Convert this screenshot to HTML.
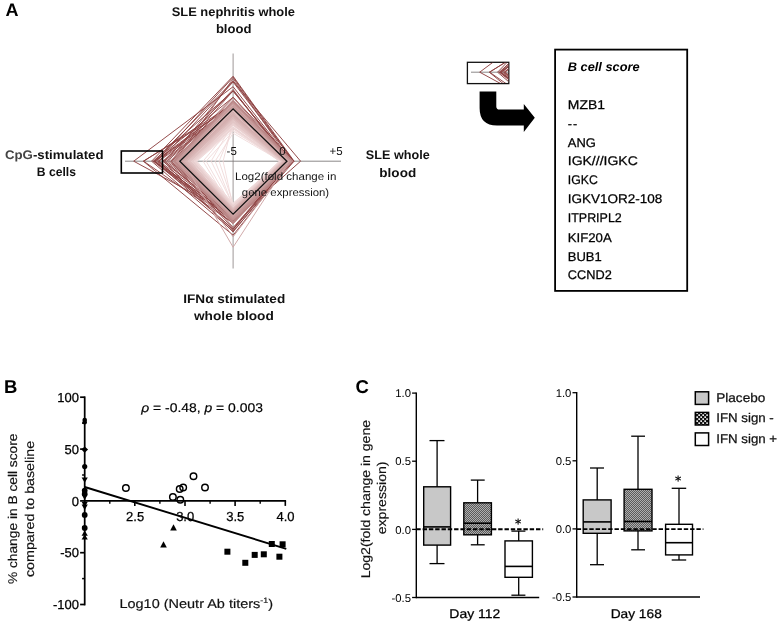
<!DOCTYPE html>
<html><head><meta charset="utf-8"><title>Figure</title>
<style>html,body{margin:0;padding:0;background:#fff}svg{display:block}text{white-space:pre;text-rendering:geometricPrecision}</style>
</head><body>
<svg width="782" height="626" viewBox="0 0 782 626">
<rect width="782" height="626" fill="#fff"/>
<g fill="none" stroke-linejoin="miter">
<line x1="233.1" y1="53.5" x2="233.1" y2="268.5" stroke="#857d7d" stroke-width="0.8"/>
<line x1="125" y1="161.2" x2="341" y2="161.2" stroke="#777272" stroke-width="0.85"/>
<polygon points="177.1,161.2 233.1,106.5 290.7,161.2 233.1,218.1" stroke="#a36262" stroke-width="0.95"/>
<polygon points="175.2,161.2 233.1,102.6 292.7,161.2 233.1,227.4" stroke="#a16060" stroke-width="0.95"/>
<polygon points="174.6,161.2 233.1,78.5 290.9,161.2 233.1,219.5" stroke="#a05e5e" stroke-width="0.95"/>
<polygon points="171.0,161.2 233.1,90.8 290.9,161.2 233.1,219.0" stroke="#9f5c5c" stroke-width="0.95"/>
<polygon points="171.7,161.2 233.1,103.4 293.7,161.2 233.1,220.3" stroke="#9d5a5a" stroke-width="0.95"/>
<polygon points="168.5,161.2 233.1,80.6 293.7,161.2 233.1,215.2" stroke="#9c5858" stroke-width="0.95"/>
<polygon points="170.5,161.2 233.1,97.3 289.2,161.2 233.1,228.6" stroke="#9b5656" stroke-width="0.95"/>
<polygon points="166.5,161.2 233.1,106.7 292.3,161.2 233.1,215.2" stroke="#9a5454" stroke-width="0.95"/>
<polygon points="164.6,161.2 233.1,106.0 293.8,161.2 233.1,217.6" stroke="#985252" stroke-width="0.95"/>
<polygon points="162.7,161.2 233.1,106.6 290.4,161.2 233.1,216.6" stroke="#975050" stroke-width="0.95"/>
<polygon points="164.4,161.2 233.1,89.5 287.7,161.2 233.1,217.3" stroke="#964e4e" stroke-width="0.95"/>
<polygon points="163.5,161.2 233.1,90.7 290.9,161.2 233.1,232.0" stroke="#944c4c" stroke-width="0.95"/>
<polygon points="158.8,161.2 233.1,107.2 289.3,161.2 233.1,229.8" stroke="#934a4a" stroke-width="0.95"/>
<polygon points="159.2,161.2 233.1,82.0 293.5,161.2 233.1,216.0" stroke="#924848" stroke-width="0.95"/>
<polygon points="158.0,161.2 233.1,102.5 292.2,161.2 233.1,221.8" stroke="#914646" stroke-width="0.95"/>
<polygon points="154.1,161.2 233.1,97.3 293.7,161.2 233.1,219.8" stroke="#8f4444" stroke-width="0.95"/>
<polygon points="154.8,161.2 233.1,107.5 293.2,161.2 233.1,216.6" stroke="#8e4242" stroke-width="0.95"/>
<polygon points="133.7,161.2 233.1,86.7 291.1,161.2 233.1,215.2" stroke="#8e4242" stroke-width="0.95"/>
<polygon points="143.3,161.2 233.1,106.7 292.1,161.2 233.1,235.2" stroke="#8e4242" stroke-width="0.95"/>
<polygon points="143.6,161.2 233.1,104.2 293.1,161.2 233.1,223.2" stroke="#8e4242" stroke-width="0.95"/>
<polygon points="151.6,161.2 233.1,76.2 294.1,161.2 233.1,231.2" stroke="#8e4242" stroke-width="0.95"/>
<polygon points="153.1,161.2 233.1,91.2 290.1,161.2 233.1,223.2" stroke="#8e4242" stroke-width="0.95"/>
<polygon points="155.1,161.2 233.1,103.2 292.1,161.2 233.1,229.2" stroke="#8e4242" stroke-width="0.95"/>
<polygon points="154.1,161.2 233.1,81.2 300.6,161.2 233.1,221.2" stroke="#8e4242" stroke-width="0.95"/>
<polygon points="156.6,161.2 233.1,77.2 293.1,161.2 233.1,218.2" stroke="#8e4242" stroke-width="0.95"/>
<path d="M175.1,161.2 L233.1,103.2 L290.6,161.2 L233.1,219.7 Z M179.8,161.2 L233.1,108.9 L286.9,161.2 L233.1,214.2 Z" fill="#ecd2d2" fill-opacity="0.55" fill-rule="evenodd" stroke="none"/>
<polygon points="178.7,161.2 233.1,108.4 288.0,161.2 233.1,216.7" stroke="#d6b2b2" stroke-width="1.0"/>
<polygon points="178.3,161.2 233.1,108.2 286.9,161.2 233.1,214.1" stroke="#d4afaf" stroke-width="1.0"/>
<polygon points="180.2,161.2 233.1,108.3 288.1,161.2 233.1,217.3" stroke="#d3adad" stroke-width="1.0"/>
<polygon points="177.8,161.2 233.1,106.7 288.5,161.2 233.1,217.4" stroke="#d1aaaa" stroke-width="1.0"/>
<polygon points="179.7,161.2 233.1,105.4 289.3,161.2 233.1,217.8" stroke="#cfa7a7" stroke-width="1.0"/>
<polygon points="177.3,161.2 233.1,105.6 288.2,161.2 233.1,218.4" stroke="#cea5a5" stroke-width="1.0"/>
<polygon points="178.1,161.2 233.1,103.8 290.2,161.2 233.1,217.3" stroke="#cca2a2" stroke-width="1.0"/>
<polygon points="177.5,161.2 233.1,102.7 290.0,161.2 233.1,216.9" stroke="#caa0a0" stroke-width="1.0"/>
<polygon points="177.9,161.2 233.1,105.4 290.7,161.2 233.1,219.9" stroke="#c99d9d" stroke-width="1.0"/>
<polygon points="177.5,161.2 233.1,102.1 291.2,161.2 233.1,219.8" stroke="#c79a9a" stroke-width="1.0"/>
<polygon points="176.4,161.2 233.1,102.7 289.9,161.2 233.1,217.8" stroke="#c59898" stroke-width="1.0"/>
<polygon points="174.2,161.2 233.1,101.8 291.0,161.2 233.1,221.9" stroke="#c39595" stroke-width="1.0"/>
<polygon points="175.4,161.2 233.1,100.4 292.0,161.2 233.1,219.5" stroke="#c29292" stroke-width="1.0"/>
<polygon points="175.5,161.2 233.1,102.1 291.2,161.2 233.1,221.5" stroke="#c09090" stroke-width="1.0"/>
<polygon points="175.1,161.2 233.1,101.1 291.3,161.2 233.1,223.3" stroke="#be8d8d" stroke-width="1.0"/>
<polygon points="174.4,161.2 233.1,100.4 292.6,161.2 233.1,223.8" stroke="#bd8a8a" stroke-width="1.0"/>
<polygon points="173.7,161.2 233.1,98.1 292.8,161.2 233.1,222.8" stroke="#bb8888" stroke-width="1.0"/>
<polygon points="173.0,161.2 233.1,101.1 293.0,161.2 233.1,221.9" stroke="#b98585" stroke-width="1.0"/>
<polygon points="183.1,161.2 233.1,111.2 289.1,161.2 233.1,247.2" stroke="#d1aaaa" stroke-width="1.0"/>
<polygon points="177.1,161.2 233.1,106.2 291.1,161.2 233.1,236.7" stroke="#c79a9a" stroke-width="1.0"/>
<path d="M179.8,161.2 L233.1,108.9 L286.9,161.2 L233.1,214.2 Z M195.1,161.2 L233.1,127.2 L280.6,161.2 L233.1,205.2 Z" fill="#f7ecec" fill-rule="evenodd" stroke="none"/>
<path d="M179.8,161.2 L233.1,108.9 L286.9,161.2 L233.1,214.2 Z M188.1,161.2 L233.1,118.2 L283.6,161.2 L233.1,209.7 Z" fill="#f1dfdf" fill-rule="evenodd" stroke="none"/>
<polygon points="215.1,161.2 233.1,133.2 281.1,161.2 233.1,206.2" stroke="#f0dada" stroke-width="0.9"/>
<polygon points="203.1,161.2 233.1,125.2 283.1,161.2 233.1,211.2" stroke="#f0dada" stroke-width="0.9"/>
<polygon points="223.1,161.2 233.1,121.2 280.1,161.2 233.1,207.2" stroke="#f0dada" stroke-width="0.9"/>
<polygon points="206.1,161.2 233.1,131.2 282.1,161.2 233.1,208.2" stroke="#f0dada" stroke-width="0.9"/>
<polygon points="211.1,161.2 233.1,123.2 283.1,161.2 233.1,205.2" stroke="#f0dada" stroke-width="0.9"/>
<polygon points="219.1,161.2 233.1,127.2 281.1,161.2 233.1,203.2" stroke="#f0dada" stroke-width="0.9"/>
<polygon points="196.6,161.2 233.1,130.3 281.1,161.2 233.1,203.5" stroke="#f3dfdf" stroke-width="1.0"/>
<polygon points="195.6,161.2 233.1,128.6 279.4,161.2 233.1,205.4" stroke="#f2dede" stroke-width="1.0"/>
<polygon points="196.8,161.2 233.1,127.8 279.6,161.2 233.1,204.0" stroke="#f1dcdc" stroke-width="1.0"/>
<polygon points="195.3,161.2 233.1,125.0 279.9,161.2 233.1,204.7" stroke="#f0dbdb" stroke-width="1.0"/>
<polygon points="194.3,161.2 233.1,123.8 281.4,161.2 233.1,205.6" stroke="#f0dada" stroke-width="1.0"/>
<polygon points="192.9,161.2 233.1,128.8 282.4,161.2 233.1,205.4" stroke="#efd8d8" stroke-width="1.0"/>
<polygon points="195.1,161.2 233.1,128.0 280.9,161.2 233.1,207.7" stroke="#eed7d7" stroke-width="1.0"/>
<polygon points="194.6,161.2 233.1,124.8 282.0,161.2 233.1,206.1" stroke="#edd6d6" stroke-width="1.0"/>
<polygon points="193.2,161.2 233.1,127.4 280.4,161.2 233.1,205.6" stroke="#ecd5d5" stroke-width="1.0"/>
<polygon points="192.5,161.2 233.1,124.8 281.3,161.2 233.1,207.3" stroke="#ecd3d3" stroke-width="1.0"/>
<polygon points="192.8,161.2 233.1,125.2 282.9,161.2 233.1,208.0" stroke="#ebd2d2" stroke-width="1.0"/>
<polygon points="193.1,161.2 233.1,123.1 282.3,161.2 233.1,208.9" stroke="#ead1d1" stroke-width="1.0"/>
<polygon points="191.3,161.2 233.1,124.4 283.8,161.2 233.1,206.1" stroke="#e9cfcf" stroke-width="1.0"/>
<polygon points="191.9,161.2 233.1,121.2 281.4,161.2 233.1,207.8" stroke="#e8cece" stroke-width="1.0"/>
<polygon points="192.7,161.2 233.1,121.3 283.4,161.2 233.1,208.3" stroke="#e7cdcd" stroke-width="1.0"/>
<polygon points="189.8,161.2 233.1,123.0 283.4,161.2 233.1,208.6" stroke="#e7cccc" stroke-width="1.0"/>
<polygon points="190.3,161.2 233.1,121.7 283.9,161.2 233.1,210.2" stroke="#e6caca" stroke-width="1.0"/>
<polygon points="190.3,161.2 233.1,120.0 281.7,161.2 233.1,209.4" stroke="#e5c9c9" stroke-width="1.0"/>
<polygon points="189.5,161.2 233.1,117.6 284.2,161.2 233.1,207.9" stroke="#e4c8c8" stroke-width="1.0"/>
<polygon points="189.9,161.2 233.1,119.2 281.9,161.2 233.1,208.8" stroke="#e3c6c6" stroke-width="1.0"/>
<polygon points="190.2,161.2 233.1,122.1 282.2,161.2 233.1,210.3" stroke="#e2c5c5" stroke-width="1.0"/>
<polygon points="190.0,161.2 233.1,120.8 283.3,161.2 233.1,210.9" stroke="#e2c4c4" stroke-width="1.0"/>
<polygon points="189.8,161.2 233.1,119.2 283.9,161.2 233.1,211.1" stroke="#e1c3c3" stroke-width="1.0"/>
<polygon points="187.2,161.2 233.1,116.3 283.3,161.2 233.1,209.5" stroke="#e0c1c1" stroke-width="1.0"/>
<polygon points="188.3,161.2 233.1,115.8 285.4,161.2 233.1,208.6" stroke="#dfc0c0" stroke-width="1.0"/>
<polygon points="188.5,161.2 233.1,119.3 283.4,161.2 233.1,210.1" stroke="#debfbf" stroke-width="1.0"/>
<polygon points="186.9,161.2 233.1,118.6 282.9,161.2 233.1,210.1" stroke="#debebe" stroke-width="1.0"/>
<polygon points="187.2,161.2 233.1,116.4 285.9,161.2 233.1,211.4" stroke="#ddbcbc" stroke-width="1.0"/>
<polygon points="186.4,161.2 233.1,115.7 285.2,161.2 233.1,209.0" stroke="#dcbbbb" stroke-width="1.0"/>
<polygon points="184.9,161.2 233.1,114.3 285.9,161.2 233.1,212.2" stroke="#dbbaba" stroke-width="1.0"/>
<polygon points="186.1,161.2 233.1,116.1 283.7,161.2 233.1,211.7" stroke="#dab8b8" stroke-width="1.0"/>
<polygon points="186.7,161.2 233.1,117.7 284.2,161.2 233.1,210.0" stroke="#d9b7b7" stroke-width="1.0"/>
<polygon points="185.6,161.2 233.1,117.4 283.7,161.2 233.1,210.2" stroke="#d9b6b6" stroke-width="1.0"/>
<polygon points="185.9,161.2 233.1,115.1 283.9,161.2 233.1,213.3" stroke="#d8b5b5" stroke-width="1.0"/>
<polygon points="184.0,161.2 233.1,116.0 284.8,161.2 233.1,211.4" stroke="#d7b3b3" stroke-width="1.0"/>
<polygon points="184.5,161.2 233.1,115.7 286.7,161.2 233.1,214.2" stroke="#d6b2b2" stroke-width="1.0"/>
<polygon points="183.8,161.2 233.1,113.1 284.6,161.2 233.1,210.8" stroke="#d5b1b1" stroke-width="1.0"/>
<polygon points="183.8,161.2 233.1,114.0 286.9,161.2 233.1,211.2" stroke="#d4afaf" stroke-width="1.0"/>
<polygon points="184.4,161.2 233.1,109.4 286.2,161.2 233.1,211.4" stroke="#d4aeae" stroke-width="1.0"/>
<polygon points="182.5,161.2 233.1,114.6 286.3,161.2 233.1,214.9" stroke="#d3adad" stroke-width="1.0"/>
<polygon points="181.2,161.2 233.1,110.1 285.7,161.2 233.1,212.7" stroke="#d2acac" stroke-width="1.0"/>
<polygon points="183.0,161.2 233.1,109.3 286.6,161.2 233.1,214.5" stroke="#d1aaaa" stroke-width="1.0"/>
<polygon points="182.1,161.2 233.1,112.1 287.6,161.2 233.1,215.5" stroke="#d0a9a9" stroke-width="1.0"/>
<polygon points="180.2,161.2 233.1,108.2 287.8,161.2 233.1,214.8" stroke="#d0a8a8" stroke-width="1.0"/>
<polygon points="181.8,161.2 233.1,109.5 286.5,161.2 233.1,212.1" stroke="#cfa6a6" stroke-width="1.0"/>
<polygon points="182.0,161.2 233.1,110.5 286.4,161.2 233.1,215.0" stroke="#cea5a5" stroke-width="1.0"/>
<polygon points="179.8,161.2 233.1,108.9 286.9,161.2 233.1,214.2" stroke="#111" stroke-width="1.3"/>
<rect x="121.3" y="151" width="41.2" height="22" stroke="#000" stroke-width="1.6"/>
</g>
<g font-family='"Liberation Sans", sans-serif'>
<text transform="rotate(0.012)" x="5.6" y="16.3" font-size="18.0" font-weight="bold" font-style="normal" fill="#000" text-anchor="start">A</text>
<text transform="rotate(0.012)" x="171.7" y="15.6" font-size="12.4" font-weight="bold" font-style="normal" fill="#111" text-anchor="start" textLength="123.3" lengthAdjust="spacingAndGlyphs">SLE nephritis whole</text>
<text transform="rotate(0.012)" x="215.9" y="33.0" font-size="12.4" font-weight="bold" font-style="normal" fill="#111" text-anchor="start" textLength="35.6" lengthAdjust="spacingAndGlyphs">blood</text>
<text transform="rotate(0.012)" x="5.0" y="158.8" font-size="12.4" font-weight="bold" textLength="98.6" lengthAdjust="spacingAndGlyphs"><tspan fill="#444">CpG</tspan><tspan fill="#111">-stimulated</tspan></text>
<text transform="rotate(0.012)" x="36.8" y="176.0" font-size="12.4" font-weight="bold" font-style="normal" fill="#111" text-anchor="start" textLength="39.2" lengthAdjust="spacingAndGlyphs">B cells</text>
<text transform="rotate(0.012)" x="365.9" y="159.4" font-size="12.4" font-weight="bold" font-style="normal" fill="#111" text-anchor="start" textLength="63.8" lengthAdjust="spacingAndGlyphs">SLE whole</text>
<text transform="rotate(0.012)" x="379.4" y="176.7" font-size="12.4" font-weight="bold" font-style="normal" fill="#111" text-anchor="start" textLength="36.8" lengthAdjust="spacingAndGlyphs">blood</text>
<text transform="rotate(0.012)" x="183.3" y="302.7" font-size="12.4" font-weight="bold" font-style="normal" fill="#111" text-anchor="start" textLength="102.0" lengthAdjust="spacingAndGlyphs">IFNα stimulated</text>
<text transform="rotate(0.012)" x="194.0" y="319.5" font-size="12.4" font-weight="bold" font-style="normal" fill="#111" text-anchor="start" textLength="79.9" lengthAdjust="spacingAndGlyphs">whole blood</text>
<text transform="rotate(0.012)" x="231.7" y="155.0" font-size="11.5" font-weight="normal" font-style="normal" fill="#111" text-anchor="middle">-5</text>
<text transform="rotate(0.012)" x="282.5" y="155.0" font-size="11.5" font-weight="normal" font-style="normal" fill="#111" text-anchor="middle">0</text>
<text transform="rotate(0.012)" x="336.2" y="155.0" font-size="11.5" font-weight="normal" font-style="normal" fill="#111" text-anchor="middle">+5</text>
<text transform="rotate(0.012)" x="235.0" y="179.8" font-size="10.8" font-weight="normal" font-style="normal" fill="#141414" text-anchor="start" textLength="101.4" lengthAdjust="spacingAndGlyphs">Log2(fold change in</text>
<text transform="rotate(0.012)" x="241.9" y="195.7" font-size="10.8" font-weight="normal" font-style="normal" fill="#141414" text-anchor="start" textLength="87.3" lengthAdjust="spacingAndGlyphs">gene expression)</text>
<g fill="none">
<rect x="467.4" y="62.3" width="41.4" height="21.3" stroke="#111" stroke-width="1.3" fill="#fff"/>
<clipPath id="ic"><rect x="467.8" y="62.7" width="40.6" height="20.4"/></clipPath><g clip-path="url(#ic)"><g transform="translate(346,-89)">
<line x1="125" y1="161.2" x2="341" y2="161.2" stroke="#777272" stroke-width="0.85"/>
<polygon points="177.1,161.2 233.1,106.5 290.7,161.2 233.1,218.1" stroke="#a36262" stroke-width="0.95"/>
<polygon points="175.2,161.2 233.1,102.6 292.7,161.2 233.1,227.4" stroke="#a16060" stroke-width="0.95"/>
<polygon points="174.6,161.2 233.1,78.5 290.9,161.2 233.1,219.5" stroke="#a05e5e" stroke-width="0.95"/>
<polygon points="171.0,161.2 233.1,90.8 290.9,161.2 233.1,219.0" stroke="#9f5c5c" stroke-width="0.95"/>
<polygon points="171.7,161.2 233.1,103.4 293.7,161.2 233.1,220.3" stroke="#9d5a5a" stroke-width="0.95"/>
<polygon points="168.5,161.2 233.1,80.6 293.7,161.2 233.1,215.2" stroke="#9c5858" stroke-width="0.95"/>
<polygon points="170.5,161.2 233.1,97.3 289.2,161.2 233.1,228.6" stroke="#9b5656" stroke-width="0.95"/>
<polygon points="166.5,161.2 233.1,106.7 292.3,161.2 233.1,215.2" stroke="#9a5454" stroke-width="0.95"/>
<polygon points="164.6,161.2 233.1,106.0 293.8,161.2 233.1,217.6" stroke="#985252" stroke-width="0.95"/>
<polygon points="162.7,161.2 233.1,106.6 290.4,161.2 233.1,216.6" stroke="#975050" stroke-width="0.95"/>
<polygon points="164.4,161.2 233.1,89.5 287.7,161.2 233.1,217.3" stroke="#964e4e" stroke-width="0.95"/>
<polygon points="163.5,161.2 233.1,90.7 290.9,161.2 233.1,232.0" stroke="#944c4c" stroke-width="0.95"/>
<polygon points="158.8,161.2 233.1,107.2 289.3,161.2 233.1,229.8" stroke="#934a4a" stroke-width="0.95"/>
<polygon points="159.2,161.2 233.1,82.0 293.5,161.2 233.1,216.0" stroke="#924848" stroke-width="0.95"/>
<polygon points="158.0,161.2 233.1,102.5 292.2,161.2 233.1,221.8" stroke="#914646" stroke-width="0.95"/>
<polygon points="154.1,161.2 233.1,97.3 293.7,161.2 233.1,219.8" stroke="#8f4444" stroke-width="0.95"/>
<polygon points="154.8,161.2 233.1,107.5 293.2,161.2 233.1,216.6" stroke="#8e4242" stroke-width="0.95"/>
<polygon points="133.7,161.2 233.1,86.7 291.1,161.2 233.1,215.2" stroke="#8e4242" stroke-width="0.95"/>
<polygon points="143.3,161.2 233.1,106.7 292.1,161.2 233.1,235.2" stroke="#8e4242" stroke-width="0.95"/>
<polygon points="143.6,161.2 233.1,104.2 293.1,161.2 233.1,223.2" stroke="#8e4242" stroke-width="0.95"/>
<polygon points="151.6,161.2 233.1,76.2 294.1,161.2 233.1,231.2" stroke="#8e4242" stroke-width="0.95"/>
<polygon points="153.1,161.2 233.1,91.2 290.1,161.2 233.1,223.2" stroke="#8e4242" stroke-width="0.95"/>
<polygon points="155.1,161.2 233.1,103.2 292.1,161.2 233.1,229.2" stroke="#8e4242" stroke-width="0.95"/>
<polygon points="154.1,161.2 233.1,81.2 300.6,161.2 233.1,221.2" stroke="#8e4242" stroke-width="0.95"/>
<polygon points="156.6,161.2 233.1,77.2 293.1,161.2 233.1,218.2" stroke="#8e4242" stroke-width="0.95"/>
<polygon points="178.7,161.2 233.1,108.4 288.0,161.2 233.1,216.7" stroke="#d6b2b2" stroke-width="1.0"/>
<polygon points="178.3,161.2 233.1,108.2 286.9,161.2 233.1,214.1" stroke="#d4afaf" stroke-width="1.0"/>
<polygon points="180.2,161.2 233.1,108.3 288.1,161.2 233.1,217.3" stroke="#d3adad" stroke-width="1.0"/>
<polygon points="177.8,161.2 233.1,106.7 288.5,161.2 233.1,217.4" stroke="#d1aaaa" stroke-width="1.0"/>
<polygon points="179.7,161.2 233.1,105.4 289.3,161.2 233.1,217.8" stroke="#cfa7a7" stroke-width="1.0"/>
<polygon points="177.3,161.2 233.1,105.6 288.2,161.2 233.1,218.4" stroke="#cea5a5" stroke-width="1.0"/>
<polygon points="178.1,161.2 233.1,103.8 290.2,161.2 233.1,217.3" stroke="#cca2a2" stroke-width="1.0"/>
<polygon points="177.5,161.2 233.1,102.7 290.0,161.2 233.1,216.9" stroke="#caa0a0" stroke-width="1.0"/>
<polygon points="177.9,161.2 233.1,105.4 290.7,161.2 233.1,219.9" stroke="#c99d9d" stroke-width="1.0"/>
<polygon points="177.5,161.2 233.1,102.1 291.2,161.2 233.1,219.8" stroke="#c79a9a" stroke-width="1.0"/>
<polygon points="176.4,161.2 233.1,102.7 289.9,161.2 233.1,217.8" stroke="#c59898" stroke-width="1.0"/>
<polygon points="174.2,161.2 233.1,101.8 291.0,161.2 233.1,221.9" stroke="#c39595" stroke-width="1.0"/>
<polygon points="175.4,161.2 233.1,100.4 292.0,161.2 233.1,219.5" stroke="#c29292" stroke-width="1.0"/>
<polygon points="175.5,161.2 233.1,102.1 291.2,161.2 233.1,221.5" stroke="#c09090" stroke-width="1.0"/>
<polygon points="175.1,161.2 233.1,101.1 291.3,161.2 233.1,223.3" stroke="#be8d8d" stroke-width="1.0"/>
<polygon points="174.4,161.2 233.1,100.4 292.6,161.2 233.1,223.8" stroke="#bd8a8a" stroke-width="1.0"/>
<polygon points="173.7,161.2 233.1,98.1 292.8,161.2 233.1,222.8" stroke="#bb8888" stroke-width="1.0"/>
<polygon points="173.0,161.2 233.1,101.1 293.0,161.2 233.1,221.9" stroke="#b98585" stroke-width="1.0"/>
<polygon points="183.1,161.2 233.1,111.2 289.1,161.2 233.1,247.2" stroke="#d1aaaa" stroke-width="1.0"/>
<polygon points="177.1,161.2 233.1,106.2 291.1,161.2 233.1,236.7" stroke="#c79a9a" stroke-width="1.0"/>
</g></g></g>
<path d="M479.6,91.5 L496.3,91.5 L496.3,106.5 Q496.3,109.6 499.5,109.6 L523.8,109.6 L523.8,103.9 L534.8,117.8 L523.8,131.9 L523.8,125.6 L497,125.6 Q479.6,125.6 479.6,108 Z" fill="#000"/>
<rect x="555.1" y="49.6" width="132.1" height="241.3" fill="none" stroke="#000" stroke-width="1.8"/>
<text transform="rotate(0.012)" x="567.8" y="71.1" font-size="12.4" font-weight="bold" font-style="italic" fill="#000" text-anchor="start" textLength="71.8" lengthAdjust="spacingAndGlyphs">B cell score</text>
<text transform="rotate(0.012)" x="567.8" y="108.5" font-size="12.6" font-weight="normal" font-style="normal" fill="#000" stroke="#000" stroke-width="0.25" text-anchor="start" textLength="37.2" lengthAdjust="spacingAndGlyphs">MZB1</text>
<text transform="rotate(0.012)" x="567.9" y="127.6" font-size="12.6" font-weight="normal" font-style="normal" fill="#000" stroke="#000" stroke-width="0.25" text-anchor="start" letter-spacing="0.9">--</text>
<text transform="rotate(0.012)" x="567.8" y="146.6" font-size="12.6" font-weight="normal" font-style="normal" fill="#000" stroke="#000" stroke-width="0.25" text-anchor="start" textLength="28.0" lengthAdjust="spacingAndGlyphs">ANG</text>
<text transform="rotate(0.012)" x="567.8" y="165.3" font-size="12.6" font-weight="normal" font-style="normal" fill="#000" stroke="#000" stroke-width="0.25" text-anchor="start" textLength="70.0" lengthAdjust="spacingAndGlyphs">IGK///IGKC</text>
<text transform="rotate(0.012)" x="567.8" y="184.0" font-size="12.6" font-weight="normal" font-style="normal" fill="#000" stroke="#000" stroke-width="0.25" text-anchor="start" textLength="30.0" lengthAdjust="spacingAndGlyphs">IGKC</text>
<text transform="rotate(0.012)" x="567.8" y="202.7" font-size="12.6" font-weight="normal" font-style="normal" fill="#000" stroke="#000" stroke-width="0.25" text-anchor="start" textLength="94.6" lengthAdjust="spacingAndGlyphs">IGKV1OR2-108</text>
<text transform="rotate(0.012)" x="567.8" y="221.7" font-size="12.6" font-weight="normal" font-style="normal" fill="#000" stroke="#000" stroke-width="0.25" text-anchor="start" textLength="54.0" lengthAdjust="spacingAndGlyphs">ITPRIPL2</text>
<text transform="rotate(0.012)" x="567.8" y="241.5" font-size="12.6" font-weight="normal" font-style="normal" fill="#000" stroke="#000" stroke-width="0.25" text-anchor="start" textLength="44.0" lengthAdjust="spacingAndGlyphs">KIF20A</text>
<text transform="rotate(0.012)" x="567.8" y="260.4" font-size="12.6" font-weight="normal" font-style="normal" fill="#000" stroke="#000" stroke-width="0.25" text-anchor="start" textLength="34.0" lengthAdjust="spacingAndGlyphs">BUB1</text>
<text transform="rotate(0.012)" x="567.8" y="278.4" font-size="12.6" font-weight="normal" font-style="normal" fill="#000" stroke="#000" stroke-width="0.25" text-anchor="start" textLength="44.0" lengthAdjust="spacingAndGlyphs">CCND2</text>
<text transform="rotate(0.012)" x="4.0" y="392.9" font-size="18.5" font-weight="bold" font-style="normal" fill="#000" text-anchor="start">B</text>
<g stroke="#000" fill="none">
<line x1="84.7" y1="396.4" x2="84.7" y2="605.4" stroke-width="1.75"/>
<line x1="84.7" y1="500.9" x2="286.1" y2="500.9" stroke-width="1.9"/>
<line x1="80.10000000000001" y1="397.2" x2="84.7" y2="397.2" stroke-width="1.7"/>
<line x1="80.10000000000001" y1="449.1" x2="84.7" y2="449.1" stroke-width="1.7"/>
<line x1="80.10000000000001" y1="500.9" x2="84.7" y2="500.9" stroke-width="1.7"/>
<line x1="80.10000000000001" y1="552.7" x2="84.7" y2="552.7" stroke-width="1.7"/>
<line x1="80.10000000000001" y1="604.5" x2="84.7" y2="604.5" stroke-width="1.7"/>
<line x1="82.10000000000001" y1="423.2" x2="84.7" y2="423.2" stroke-width="1.5"/>
<line x1="82.10000000000001" y1="475.0" x2="84.7" y2="475.0" stroke-width="1.5"/>
<line x1="82.10000000000001" y1="526.8" x2="84.7" y2="526.8" stroke-width="1.5"/>
<line x1="82.10000000000001" y1="578.6" x2="84.7" y2="578.6" stroke-width="1.5"/>
<line x1="134.8" y1="500.9" x2="134.8" y2="505.9" stroke-width="1.6"/>
<line x1="185.0" y1="500.9" x2="185.0" y2="505.9" stroke-width="1.6"/>
<line x1="235.1" y1="500.9" x2="235.1" y2="505.9" stroke-width="1.6"/>
<line x1="285.3" y1="500.9" x2="285.3" y2="505.9" stroke-width="1.6"/>
<line x1="109.8" y1="500.9" x2="109.8" y2="503.79999999999995" stroke-width="1.4"/>
<line x1="159.9" y1="500.9" x2="159.9" y2="503.79999999999995" stroke-width="1.4"/>
<line x1="210.1" y1="500.9" x2="210.1" y2="503.79999999999995" stroke-width="1.4"/>
<line x1="260.2" y1="500.9" x2="260.2" y2="503.79999999999995" stroke-width="1.4"/>
<line x1="84.7" y1="487.0" x2="286.3" y2="548.8" stroke-width="1.9"/>
<circle cx="125.9" cy="488.0" r="3.25" stroke-width="1.45"/>
<circle cx="172.9" cy="496.9" r="3.25" stroke-width="1.45"/>
<circle cx="180.3" cy="499.8" r="3.25" stroke-width="1.45"/>
<circle cx="179.7" cy="488.9" r="3.25" stroke-width="1.45"/>
<circle cx="183.2" cy="487.4" r="3.25" stroke-width="1.45"/>
<circle cx="193.5" cy="476.3" r="3.25" stroke-width="1.45"/>
<circle cx="205" cy="487.4" r="3.25" stroke-width="1.45"/>
</g>
<g fill="#000">
<polygon points="160.2,547.4 166.8,547.4 163.5,541.2"/>
<polygon points="170.2,530.4 176.8,530.4 173.5,524.2"/>
<rect x="224.4" y="548.7" width="6.0" height="6.0"/>
<rect x="242.3" y="559.8" width="6.0" height="6.0"/>
<rect x="251.7" y="551.9" width="6.0" height="6.0"/>
<rect x="260.8" y="551.3" width="6.0" height="6.0"/>
<rect x="268.8" y="541.0" width="6.0" height="6.0"/>
<rect x="279.6" y="541.3" width="6.0" height="6.0"/>
<rect x="276.4" y="553.7" width="6.0" height="6.0"/>
<circle cx="84.7" cy="420.0" r="2.3"/>
<circle cx="84.7" cy="422.2" r="2.3"/>
<circle cx="84.7" cy="466.5" r="2.6"/>
<circle cx="84.7" cy="490.6" r="2.85"/>
<circle cx="84.7" cy="493.8" r="2.85"/>
<circle cx="84.7" cy="514.9" r="2.9"/>
<circle cx="84.7" cy="528.0" r="2.9"/>
<polygon points="81.3,449.6 84.7,446.40000000000003 88.10000000000001,449.6 84.7,452.8"/>
<polygon points="81.6,477.4 87.8,477.4 84.7,482.8"/>
<polygon points="81.6,494.6 87.8,494.6 84.7,500.0"/>
<polygon points="81.6,501.8 87.8,501.8 84.7,507.2"/>
<polygon points="81.6,504.6 87.8,504.6 84.7,510.0"/>
<polygon points="81.6,535.8 87.8,535.8 84.7,530.4"/>
<polygon points="81.6,539.6 87.8,539.6 84.7,534.2"/>
</g>
<text transform="rotate(0.012)" x="79.1" y="401.9" font-size="13" font-weight="normal" font-style="normal" fill="#000" stroke="#000" stroke-width="0.25" text-anchor="end">100</text>
<text transform="rotate(0.012)" x="79.1" y="453.8" font-size="13" font-weight="normal" font-style="normal" fill="#000" stroke="#000" stroke-width="0.25" text-anchor="end">50</text>
<text transform="rotate(0.012)" x="79.1" y="505.6" font-size="13" font-weight="normal" font-style="normal" fill="#000" stroke="#000" stroke-width="0.25" text-anchor="end">0</text>
<text transform="rotate(0.012)" x="79.1" y="557.4" font-size="13" font-weight="normal" font-style="normal" fill="#000" stroke="#000" stroke-width="0.25" text-anchor="end">-50</text>
<text transform="rotate(0.012)" x="79.1" y="609.2" font-size="13" font-weight="normal" font-style="normal" fill="#000" stroke="#000" stroke-width="0.25" text-anchor="end">-100</text>
<text transform="rotate(0.012)" x="135.2" y="520.7" font-size="13" font-weight="normal" font-style="normal" fill="#000" stroke="#000" stroke-width="0.25" text-anchor="middle">2.5</text>
<text transform="rotate(0.012)" x="185.3" y="520.7" font-size="13" font-weight="normal" font-style="normal" fill="#000" stroke="#000" stroke-width="0.25" text-anchor="middle">3.0</text>
<text transform="rotate(0.012)" x="235.4" y="520.7" font-size="13" font-weight="normal" font-style="normal" fill="#000" stroke="#000" stroke-width="0.25" text-anchor="middle">3.5</text>
<text transform="rotate(0.012)" x="285.6" y="520.7" font-size="13" font-weight="normal" font-style="normal" fill="#000" stroke="#000" stroke-width="0.25" text-anchor="middle">4.0</text>
<text transform="rotate(0.012)" x="141.3" y="412.2" font-size="12.6" fill="#000" stroke="#000" stroke-width="0.18" textLength="121.7" lengthAdjust="spacingAndGlyphs"><tspan font-style="italic">ρ</tspan> = -0.48, <tspan font-style="italic">p</tspan> = 0.003</text>
<text transform="rotate(0.012)" x="119.6" y="608.4" font-size="12.8" fill="#111" stroke="#111" stroke-width="0.18" textLength="153.5" lengthAdjust="spacingAndGlyphs">Log10 (Neutr Ab titers<tspan font-size="7.8" dy="-5.2">-1</tspan><tspan dy="5.2">)</tspan></text>
<text transform="translate(17.0,584.1) rotate(-89.99)" font-size="12.7" fill="#111" stroke="#111" stroke-width="0.15" textLength="150.6" lengthAdjust="spacingAndGlyphs">% change in B cell score</text>
<text transform="translate(34.3,577) rotate(-89.99)" font-size="12.7" fill="#111" stroke="#111" stroke-width="0.15" textLength="136.2" lengthAdjust="spacingAndGlyphs">compared to baseline</text>
<text transform="rotate(0.012)" x="355.6" y="392.9" font-size="18.5" font-weight="bold" font-style="normal" fill="#000" text-anchor="start">C</text>
<defs><pattern id="chk" width="2" height="2" patternUnits="userSpaceOnUse"><rect width="2" height="2" fill="#5a5a5a"/><rect width="1" height="1" fill="#aeaeae"/><rect x="1" y="1" width="1" height="1" fill="#aeaeae"/></pattern>
<pattern id="chk2" width="4" height="4" patternUnits="userSpaceOnUse"><rect width="4" height="4" fill="#111"/><rect x="0.3" y="0.3" width="1.7" height="1.7" fill="#eee"/><rect x="2.3" y="2.3" width="1.7" height="1.7" fill="#eee"/></pattern></defs>
<g stroke="#000" fill="none">
<line x1="416.3" y1="392.40000000000003" x2="416.3" y2="598.2" stroke-width="1.4"/>
<line x1="416.3" y1="597.5" x2="539.2" y2="597.5" stroke-width="1.4"/>
<line x1="412.1" y1="393.1" x2="416.3" y2="393.1" stroke-width="1.3"/>
<line x1="412.1" y1="461.2" x2="416.3" y2="461.2" stroke-width="1.3"/>
<line x1="412.1" y1="529.4" x2="416.3" y2="529.4" stroke-width="1.3"/>
<line x1="412.1" y1="597.5" x2="416.3" y2="597.5" stroke-width="1.3"/>
<line x1="437.1" y1="440.6" x2="437.1" y2="563.6" stroke-width="1.3"/>
<line x1="429.5" y1="440.6" x2="444.5" y2="440.6" stroke-width="1.3"/>
<line x1="429.5" y1="563.6" x2="444.5" y2="563.6" stroke-width="1.3"/>
<rect x="423.7" y="486.8" width="26.9" height="58.3" fill="#c8c8c8" stroke-width="1.4"/>
<line x1="423.7" y1="526.9" x2="450.6" y2="526.9" stroke-width="1.6"/>
<line x1="477.6" y1="480.1" x2="477.6" y2="544.8" stroke-width="1.3"/>
<line x1="470.8" y1="480.1" x2="484.7" y2="480.1" stroke-width="1.3"/>
<line x1="470.8" y1="544.8" x2="484.7" y2="544.8" stroke-width="1.3"/>
<rect x="463.8" y="502.8" width="27.6" height="32.0" fill="url(#chk)" stroke-width="1.4"/>
<line x1="463.8" y1="523.2" x2="491.4" y2="523.2" stroke-width="1.6"/>
<line x1="518.7" y1="531.1" x2="518.7" y2="595.2" stroke-width="1.3"/>
<line x1="511.4" y1="531.1" x2="525.4" y2="531.1" stroke-width="1.3"/>
<line x1="511.4" y1="595.2" x2="525.4" y2="595.2" stroke-width="1.3"/>
<rect x="505.0" y="540.9" width="27.4" height="36.4" fill="#fff" stroke-width="1.4"/>
<line x1="505.0" y1="566.4" x2="532.4" y2="566.4" stroke-width="1.6"/>
<line x1="416.3" y1="529.3" x2="543.2" y2="529.3" stroke-width="1.9" stroke-dasharray="4.4,1.9"/>
</g>
<text transform="rotate(0.012)" x="411.1" y="397.2" font-size="11.3" font-weight="normal" font-style="normal" fill="#000" text-anchor="end">1.0</text>
<text transform="rotate(0.012)" x="411.1" y="465.3" font-size="11.3" font-weight="normal" font-style="normal" fill="#000" text-anchor="end">0.5</text>
<text transform="rotate(0.012)" x="411.1" y="533.5" font-size="11.3" font-weight="normal" font-style="normal" fill="#000" text-anchor="end">0.0</text>
<text transform="rotate(0.012)" x="411.1" y="601.6" font-size="11.3" font-weight="normal" font-style="normal" fill="#000" text-anchor="end">-0.5</text>
<text transform="rotate(0.012)" x="449.5" y="617.8" font-size="12.7" font-weight="normal" font-style="normal" fill="#000" stroke="#000" stroke-width="0.25" text-anchor="start" textLength="51.0" lengthAdjust="spacingAndGlyphs">Day 112</text>
<g stroke="#000" fill="none">
<line x1="576.7" y1="392.0" x2="576.7" y2="597.7" stroke-width="1.4"/>
<line x1="576.7" y1="597.0" x2="700.0" y2="597.0" stroke-width="1.4"/>
<line x1="572.5" y1="392.7" x2="576.7" y2="392.7" stroke-width="1.3"/>
<line x1="572.5" y1="460.8" x2="576.7" y2="460.8" stroke-width="1.3"/>
<line x1="572.5" y1="528.9" x2="576.7" y2="528.9" stroke-width="1.3"/>
<line x1="572.5" y1="597.0" x2="576.7" y2="597.0" stroke-width="1.3"/>
<line x1="597.2" y1="468.0" x2="597.2" y2="564.7" stroke-width="1.3"/>
<line x1="590.0" y1="468.0" x2="604.0" y2="468.0" stroke-width="1.3"/>
<line x1="590.0" y1="564.7" x2="604.0" y2="564.7" stroke-width="1.3"/>
<rect x="583.2" y="499.9" width="27.9" height="33.4" fill="#c8c8c8" stroke-width="1.4"/>
<line x1="583.2" y1="521.9" x2="611.1" y2="521.9" stroke-width="1.6"/>
<line x1="638.0" y1="436.2" x2="638.0" y2="549.8" stroke-width="1.3"/>
<line x1="631.2" y1="436.2" x2="645.0" y2="436.2" stroke-width="1.3"/>
<line x1="631.2" y1="549.8" x2="645.0" y2="549.8" stroke-width="1.3"/>
<rect x="624.1" y="489.3" width="27.9" height="41.6" fill="url(#chk)" stroke-width="1.4"/>
<line x1="624.1" y1="521.5" x2="652.0" y2="521.5" stroke-width="1.6"/>
<line x1="679.0" y1="488.3" x2="679.0" y2="560.0" stroke-width="1.3"/>
<line x1="671.7" y1="488.3" x2="686.2" y2="488.3" stroke-width="1.3"/>
<line x1="671.7" y1="560.0" x2="686.2" y2="560.0" stroke-width="1.3"/>
<rect x="665.6" y="524.3" width="26.9" height="30.6" fill="#fff" stroke-width="1.4"/>
<line x1="665.6" y1="542.7" x2="692.5" y2="542.7" stroke-width="1.6"/>
<line x1="576.7" y1="529.1" x2="703.4" y2="529.1" stroke-width="1.9" stroke-dasharray="4.4,1.9"/>
</g>
<text transform="rotate(0.012)" x="571.5" y="396.8" font-size="11.3" font-weight="normal" font-style="normal" fill="#000" text-anchor="end">1.0</text>
<text transform="rotate(0.012)" x="571.5" y="464.9" font-size="11.3" font-weight="normal" font-style="normal" fill="#000" text-anchor="end">0.5</text>
<text transform="rotate(0.012)" x="571.5" y="533.0" font-size="11.3" font-weight="normal" font-style="normal" fill="#000" text-anchor="end">0.0</text>
<text transform="rotate(0.012)" x="571.5" y="601.1" font-size="11.3" font-weight="normal" font-style="normal" fill="#000" text-anchor="end">-0.5</text>
<text transform="rotate(0.012)" x="610.8" y="617.8" font-size="12.7" font-weight="normal" font-style="normal" fill="#000" stroke="#000" stroke-width="0.25" text-anchor="start" textLength="51.1" lengthAdjust="spacingAndGlyphs">Day 168</text>
<text transform="rotate(0.012)" x="518.3" y="527.6" font-size="12.5" font-weight="normal" font-style="normal" fill="#000" stroke="#000" stroke-width="0.25" text-anchor="middle" font-family="DejaVu Sans, Liberation Sans, sans-serif">*</text>
<text transform="rotate(0.012)" x="678.3" y="485.0" font-size="12.5" font-weight="normal" font-style="normal" fill="#000" stroke="#000" stroke-width="0.25" text-anchor="middle" font-family="DejaVu Sans, Liberation Sans, sans-serif">*</text>
<text transform="translate(369.6,578.3) rotate(-89.99)" font-size="12.7" fill="#111" stroke="#111" stroke-width="0.15" textLength="158.3" lengthAdjust="spacingAndGlyphs">Log2(fold change in gene</text>
<text transform="translate(386.0,534.3) rotate(-89.99)" font-size="12.7" fill="#111" stroke="#111" stroke-width="0.15" textLength="72.8" lengthAdjust="spacingAndGlyphs">expression)</text>
<g stroke="#000" stroke-width="1.5">
<rect x="695.3" y="391.8" width="13.3" height="12.6" fill="#c8c8c8"/>
<rect x="695.3" y="412.4" width="13.3" height="12.6" fill="url(#chk2)"/>
<rect x="695.3" y="432.9" width="13.3" height="12.6" fill="#fff"/>
</g>
<text transform="rotate(0.012)" x="716.3" y="401.5" font-size="12.6" font-weight="normal" font-style="normal" fill="#111" stroke="#111" stroke-width="0.25" text-anchor="start" textLength="49.1" lengthAdjust="spacingAndGlyphs">Placebo</text>
<text transform="rotate(0.012)" x="716.3" y="421.7" font-size="12.6" font-weight="normal" font-style="normal" fill="#111" stroke="#111" stroke-width="0.25" text-anchor="start" textLength="57.6" lengthAdjust="spacingAndGlyphs">IFN sign -</text>
<text transform="rotate(0.012)" x="716.3" y="442.9" font-size="12.6" font-weight="normal" font-style="normal" fill="#111" stroke="#111" stroke-width="0.25" text-anchor="start" textLength="60.9" lengthAdjust="spacingAndGlyphs">IFN sign +</text>
</g>
</svg>
</body></html>
